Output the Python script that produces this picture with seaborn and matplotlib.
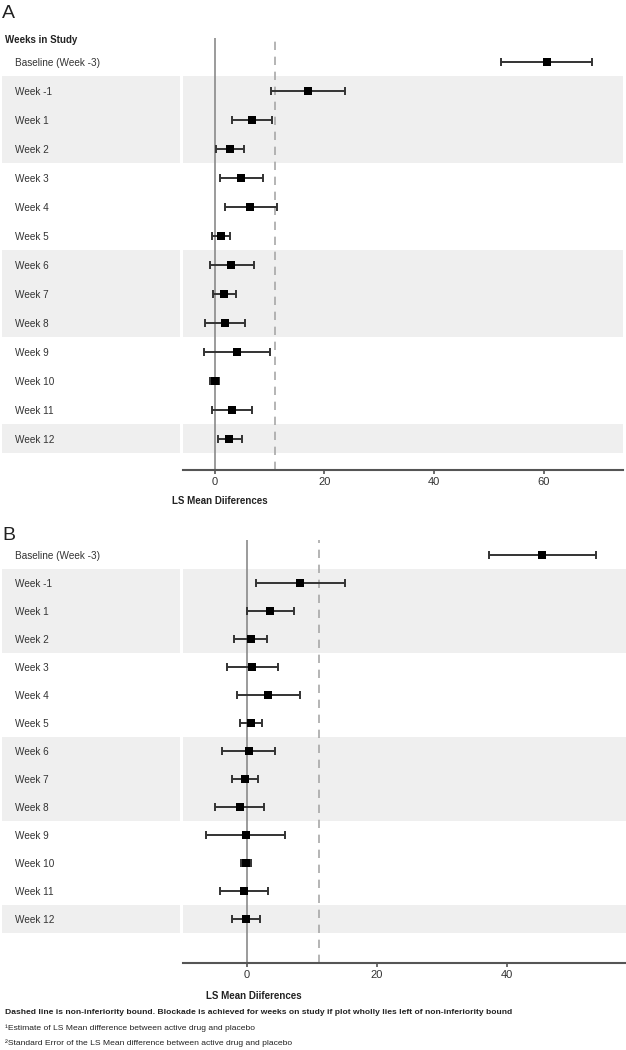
import matplotlib
matplotlib.use("Agg")
import matplotlib.pyplot as plt
import numpy as np
import pandas as pd
import seaborn as sns

sns.set_style("white")
plt.rcParams["font.family"] = ["Liberation Sans", "DejaVu Sans"]

WEEKS = [
    "Baseline (Week -3)", "Week -1", "Week 1", "Week 2", "Week 3", "Week 4",
    "Week 5", "Week 6", "Week 7", "Week 8", "Week 9", "Week 10", "Week 11", "Week 12",
]
SHADED = ["Week -1", "Week 1", "Week 2", "Week 6", "Week 7", "Week 8", "Week 12"]
NI_BOUND = 11

# panel A: LS mean differences with interval ends
A_EST = [60.5, 17.1, 6.85, 2.8, 4.8, 6.5, 1.1, 3.0, 1.8, 1.9, 4.1, 0.1, 3.15, 2.7]
A_LO = [52.2, 10.3, 3.15, 0.25, 0.97, 1.9, -0.5, -0.85, -0.2, -1.8, -1.9, -0.8, -0.5, 0.6]
A_HI = [68.8, 23.8, 10.5, 5.3, 8.8, 11.3, 2.8, 7.2, 3.9, 5.6, 10.1, 0.9, 6.8, 5.0]
A_TICKS = [0, 20, 40, 60]

# panel B
B_EST = [45.4, 8.2, 3.6, 0.55, 0.8, 3.25, 0.6, 0.3, -0.3, -1.1, -0.2, -0.2, -0.45, -0.15]
B_LO = [37.2, 1.35, 0.0, -2.0, -3.1, -1.5, -1.1, -3.8, -2.3, -4.9, -6.35, -1.0, -4.1, -2.3]
B_HI = [53.7, 15.0, 7.3, 3.1, 4.8, 8.1, 2.3, 4.3, 1.75, 2.6, 5.9, 0.6, 3.3, 2.0]
B_TICKS = [0, 20, 40]

SHADE = "#efefef"
TEXT = "#333333"
W, H = 626, 1050


def shaded_runs():
    idx = [WEEKS.index(w) for w in SHADED]
    runs = []
    start = prev = idx[0]
    for i in idx[1:]:
        if i != prev + 1:
            runs.append((start, prev))
            start = i
        prev = i
    runs.append((start, prev))
    return runs


def draw_panel(ax, est, lo, hi, ticks, xlim, ylim, ax_left_px, ax_width_px, label_dy):
    df = pd.DataFrame({"week": WEEKS, "row": np.arange(len(WEEKS)),
                       "est": est, "lo": lo, "hi": hi})

    for r0, r1 in shaded_runs():
        ax.axhspan(r0 - 0.5, r1 + 0.5, xmin=0, xmax=1, color=SHADE, lw=0, zorder=0)
        ax.axhspan(r0 - 0.5, r1 + 0.5,
                   xmin=(2 - ax_left_px) / ax_width_px,
                   xmax=(180 - ax_left_px) / ax_width_px,
                   color=SHADE, lw=0, zorder=0, clip_on=False)

    ax.axvline(0, color="#8a8a8a", lw=1.2, zorder=1)
    ax.axvline(NI_BOUND, color="#a8a8a8", lw=1.2, ls=(0, (5, 4)), zorder=1)

    ax.errorbar(df["est"], df["row"],
                xerr=[df["est"] - df["lo"], df["hi"] - df["est"]],
                fmt="none", ecolor="#333333", elinewidth=1.4,
                capsize=2.9, capthick=1.4, zorder=3)
    sns.scatterplot(data=df, x="est", y="row", marker="s", color="black",
                    s=27, linewidth=0, ax=ax, legend=False, zorder=4)

    ax.set_xlim(*xlim)
    ax.set_ylim(*ylim)
    ax.set_xticks(ticks)
    ax.set_xticklabels([str(t) for t in ticks], fontsize=8, color=TEXT)
    ax.set_yticks(df["row"])
    ax.set_yticklabels(WEEKS, ha="left", fontsize=7.2, color=TEXT)
    ax.tick_params(axis="y", length=0, pad=(ax_left_px - 15) * 0.72)
    ax.tick_params(axis="x", direction="out", length=3, width=1.2,
                   color="#555555", pad=2, bottom=True)
    ax.set_xlabel("")
    ax.set_ylabel("")
    for side in ["left", "top", "right"]:
        ax.spines[side].set_visible(False)
    ax.spines["bottom"].set_color("#555555")
    ax.spines["bottom"].set_linewidth(1.5)
    ax.patch.set_alpha(0)

    ax.text(1.0, label_dy, "LS Mean Diiferences", transform=ax.get_xaxis_transform(),
            ha="center", va="center", fontsize=7, fontweight="bold", color="#222222")


fig = plt.figure(figsize=(W / 100, H / 100), dpi=100)

# panel A
ax_a = fig.add_axes([183 / W, 1 - 470 / H, 440 / W, 432 / H])
draw_panel(ax_a, A_EST, A_LO, A_HI, A_TICKS, (-5.74, 74.4), (14.08, -0.82),
           183, 440, -31 / 432)

# panel B
ax_b = fig.add_axes([183 / W, 1 - 963 / H, 443 / W, 423 / H])
draw_panel(ax_b, B_EST, B_LO, B_HI, B_TICKS, (-9.85, 58.3), (14.57, -0.54),
           183, 443, -33 / 423)

fig.text(2 / W, 1 - 14 / H, "A", fontsize=14, va="center", ha="left", color="#222222")
fig.text(2 / W, 1 - 535 / H, "B", fontsize=14, va="center", ha="left", color="#222222")
fig.text(5 / W, 1 - 40 / H, "Weeks in Study", fontsize=7, fontweight="bold",
         va="center", ha="left", color="#222222")

fig.text(5 / W, 1 - 1013 / H,
         "Dashed line is non-inferiority bound. Blockade is achieved for weeks on study "
         "if plot wholly lies left of non-inferiority bound",
         fontsize=6.1, fontweight="bold", va="center", ha="left", color="#222222")
fig.text(5 / W, 1 - 1028 / H,
         "\u00b9Estimate of LS Mean difference between active drug and placebo",
         fontsize=6.1, va="center", ha="left", color="#222222")
fig.text(5 / W, 1 - 1043 / H,
         "\u00b2Standard Error of the LS Mean difference between active drug and placebo",
         fontsize=6.1, va="center", ha="left", color="#222222")

fig.savefig("out.png", dpi=100)
plt.close(fig)
